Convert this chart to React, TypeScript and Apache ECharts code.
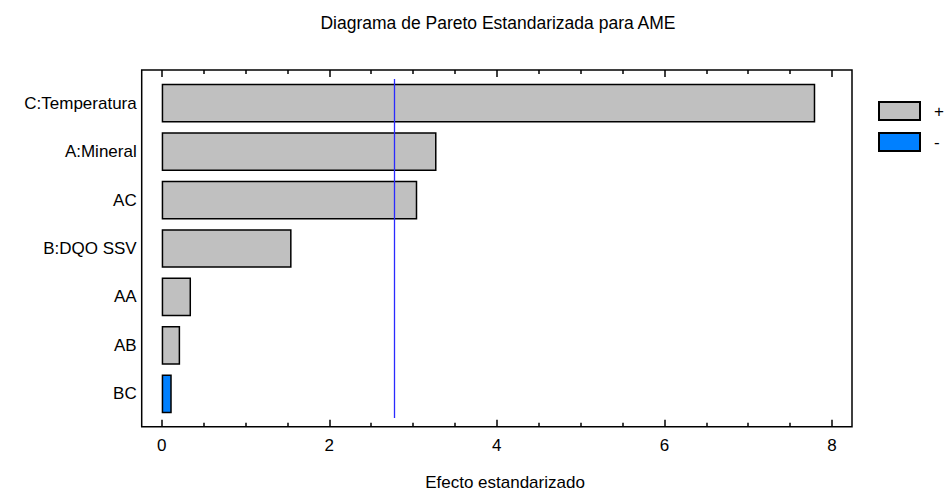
import React, { useEffect, useRef } from "react";
import * as echarts from "echarts";

const categories = ["C:Temperatura", "A:Mineral", "AC", "B:DQO SSV", "AA", "AB", "BC"];
const positiveEffects: (number | null)[] = [7.8, 3.28, 3.05, 1.55, 0.35, 0.22, null];
const negativeEffects: (number | null)[] = [null, null, null, null, null, null, 0.12];
const criticalValue = 2.776;
const xTicks = { min: 0, max: 8, interval: 2 };
const titleText = "Diagrama de Pareto Estandarizada para AME";
const xAxisTitle = "Efecto estandarizado";

const FONT = "'Liberation Sans', Arial, sans-serif";

export default function App() {
  const ref = useRef<HTMLDivElement>(null);
  useEffect(() => {
    document.body.style.margin = "0";
    if (!ref.current) return;
    const chart = echarts.init(ref.current, undefined, { renderer: "svg" });
    const axisCommon = {
      type: "value" as const,
      min: xTicks.min,
      max: xTicks.max,
      interval: xTicks.interval,
      axisLine: { show: false },
      axisTick: { show: true, inside: true, length: 7, lineStyle: { color: "#000", width: 1.5 } },
      minorTick: { show: true, splitNumber: 4, length: 4, lineStyle: { color: "#000", width: 1.5 } },
      splitLine: { show: false },
      minorSplitLine: { show: false },
    };
    chart.setOption({
      animation: false,
      textStyle: { fontFamily: FONT },
      grid: { left: 161.7, right: 112, top: 79, bottom: 73 },
      legend: {
        orient: "vertical",
        left: 878,
        top: 101,
        padding: 0,
        itemWidth: 41,
        itemHeight: 18,
        itemGap: 11,
        icon: "rect",
        data: ["+", "-"],
        textStyle: { fontSize: 17, color: "#000", fontFamily: FONT, padding: [0, 0, 0, 9] },
      },
      xAxis: [
        {
          ...axisCommon,
          position: "bottom",
          offset: 8.7,
          axisLabel: { show: true, fontSize: 17, color: "#000", margin: 10, fontFamily: FONT },
        },
        {
          ...axisCommon,
          position: "top",
          offset: 9,
          axisLabel: { show: false },
        },
      ],
      yAxis: {
        type: "category",
        inverse: true,
        data: categories,
        axisLine: { show: false },
        axisTick: { show: false },
        axisLabel: { fontSize: 17, color: "#000", margin: 25, fontFamily: FONT },
      },
      series: [
        {
          name: "+",
          type: "bar",
          stack: "effect",
          xAxisIndex: 0,
          data: positiveEffects,
          barCategoryGap: "20%",
          itemStyle: { color: "#c0c0c0", borderColor: "#000", borderWidth: 1.5 },
          markLine: {
            silent: true,
            symbol: "none",
            label: { show: false },
            lineStyle: { color: "#2a2aff", width: 1.3, type: "solid" },
            data: [{ xAxis: criticalValue }],
          },
        },
        {
          name: "-",
          type: "bar",
          stack: "effect",
          xAxisIndex: 0,
          data: negativeEffects,
          barCategoryGap: "20%",
          itemStyle: { color: "#0080ff", borderColor: "#000", borderWidth: 1.5 },
        },
      ],
      graphic: [
        {
          type: "rect",
          shape: { x: 141.7, y: 70, width: 710.3, height: 356.7 },
          style: { fill: "none", stroke: "#000", lineWidth: 1.5 },
          silent: true,
        },
        {
          type: "text",
          x: 498,
          y: 23,
          style: {
            text: titleText,
            fontSize: 17.5,
            fontFamily: FONT,
            fill: "#000",
            textAlign: "center",
            textVerticalAlign: "middle",
          },
        },
        {
          type: "text",
          x: 505,
          y: 482,
          style: {
            text: xAxisTitle,
            fontSize: 17,
            fontFamily: FONT,
            fill: "#000",
            textAlign: "center",
            textVerticalAlign: "middle",
          },
        },
      ],
    });
    return () => chart.dispose();
  }, []);
  return <div ref={ref} style={{ width: 944, height: 491 }} />;
}
